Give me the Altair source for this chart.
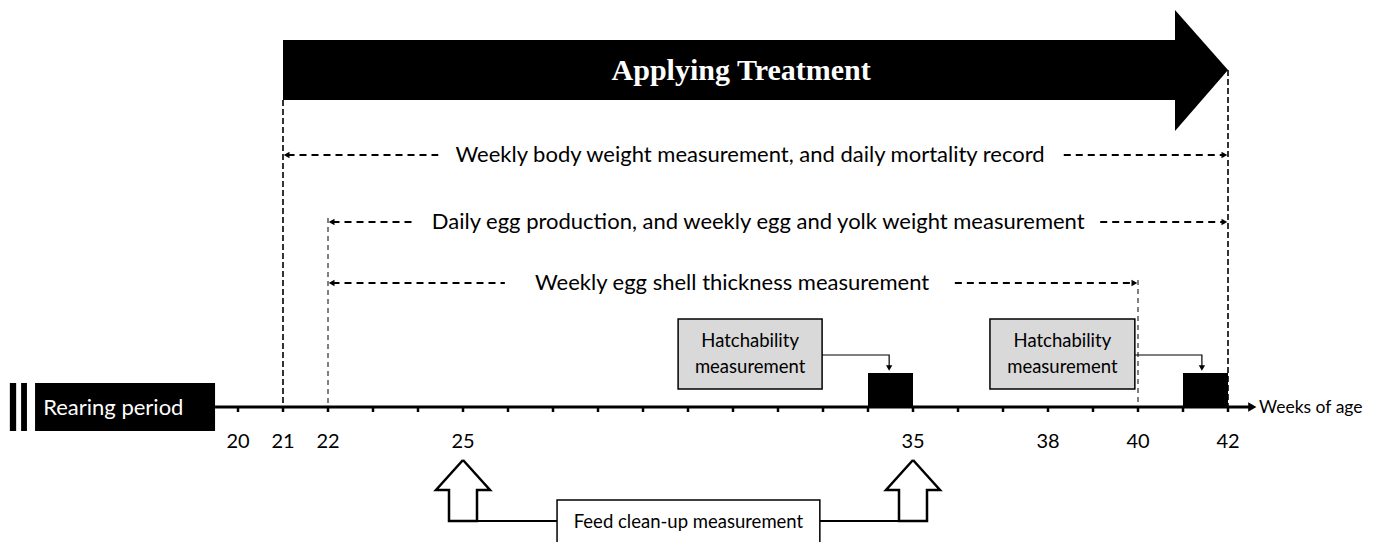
import altair as alt
import pandas as pd

# ---------------- data ----------------
tick_weeks = list(range(20, 43))
label_weeks = [20, 21, 22, 25, 35, 38, 40, 42]

treatment_label = "Applying Treatment"
treatment_start, treatment_end = 21, 42

span_labels = [
    "Weekly body weight measurement, and daily mortality record",
    "Daily egg production, and weekly egg and yolk weight measurement",
    "Weekly egg shell thickness measurement",
]
span_start = [21, 22, 22]
span_end = [42, 42, 40]
span_text_week = [31.38, 31.56, 30.98]
span_gap_left = [24.45, 23.96, 25.93]
span_gap_right = [38.35, 39.16, 35.93]

guide_week = [21, 42, 22, 40]

hatch_labels = ["Hatchability", "measurement"]
hatch_box_start = [29.78, 36.71]
hatch_box_end = [32.98, 39.93]
hatch_target_week = [34.47, 41.42]
hatch_period_start = [34, 41]
hatch_period_end = [35, 42]

feed_label = "Feed clean-up measurement"
feed_weeks = [25, 35]
feed_box = [27.09, 32.93]

rearing_label = "Rearing period"
rearing_start, rearing_end = 15.49, 19.49
break_bars = [(14.93, 15.07), (15.18, 15.31)]
timeline_end = 42.49
axis_title = "Weeks of age"

# ---------------- layout (vertical levels, px from page top) ----------------
W, H = 1358, 540
PXW = 45.0  # px per week
x_dom = [21 - 275 / PXW, 21 - 275 / PXW + W / PXW]
y_dom = [8, 8 + H]
xs = alt.Scale(domain=x_dom, nice=False, zero=False)
ys = alt.Scale(domain=y_dom, nice=False, zero=False, reverse=True)

ARROW_TOP, ARROW_BOT, HEAD_TOP, HEAD_BOT, ARROW_MID = 40, 100, 10, 131, 70
HEAD_BASE = 42 - 53 / PXW
ROW_Y = [155, 222, 283]
GUIDE_TOP = [100, 70, 218, 280]
TL_Y = 407
LABEL_Y = 442
HB_TOP, HB_BOT, CONN_Y = 319, 389, 355
BLK_TOP = 373
FEED_TIP, FEED_BASE, FEED_BOT = 460, 490, 521
HEAD_HW, SHAFT_HW = 27 / PXW, 14 / PXW
FONT = "Lato"


def X(f="x"):
    return alt.X(f, type="quantitative", scale=xs, axis=None)


def Y(f="y"):
    return alt.Y(f, type="quantitative", scale=ys, axis=None)


layers = []

# treatment arrow
layers.append(alt.Chart(pd.DataFrame([{"x": treatment_start, "x2": HEAD_BASE + 0.01,
                                       "y": ARROW_TOP, "y2": ARROW_BOT}]))
              .mark_rect(color="black").encode(x=X(), x2="x2", y=Y(), y2="y2"))
layers.append(alt.Chart(pd.DataFrame({"x": [HEAD_BASE, treatment_end],
                                      "y": [HEAD_TOP, ARROW_MID], "y2": [HEAD_BOT, ARROW_MID]}))
              .mark_area(color="black", opacity=1).encode(x=X(), y=Y(), y2="y2"))
layers.append(alt.Chart(pd.DataFrame([{"x": (treatment_start + HEAD_BASE) / 2 + 0.27,
                                       "y": ARROW_MID + 1, "t": treatment_label}]))
              .mark_text(font="Liberation Serif", fontWeight="bold", fontSize=30, color="white",
                         align="center", baseline="middle")
              .encode(x=X(), y=Y(), text="t:N"))

# vertical guides
gdf = pd.DataFrame({"x": guide_week, "y": GUIDE_TOP, "y2": [TL_Y] * 4})
layers.append(alt.Chart(gdf.iloc[:2]).mark_rule(color="black", strokeWidth=1.6, strokeDash=[6, 3])
              .encode(x=X(), y=Y(), y2="y2"))
layers.append(alt.Chart(gdf.iloc[2:]).mark_rule(color="black", strokeWidth=1, strokeDash=[5, 4])
              .encode(x=X(), y=Y(), y2="y2"))

# span dashed arrows
segs = []
for i in range(3):
    segs.append({"x": span_start[i] + 0.1, "x2": span_gap_left[i], "y": ROW_Y[i]})
    segs.append({"x": span_gap_right[i], "x2": span_end[i] - 0.1, "y": ROW_Y[i]})
layers.append(alt.Chart(pd.DataFrame(segs)).mark_rule(color="black", strokeWidth=2, strokeDash=[7, 5])
              .encode(x=X(), x2="x2", y=Y()))
layers.append(alt.Chart(pd.DataFrame({"x": [s + 0.08 for s in span_start], "y": ROW_Y}))
              .mark_point(shape="triangle-left", filled=True, color="black", size=45, opacity=1)
              .encode(x=X(), y=Y()))
layers.append(alt.Chart(pd.DataFrame({"x": [e - 0.08 for e in span_end], "y": ROW_Y}))
              .mark_point(shape="triangle-right", filled=True, color="black", size=45, opacity=1)
              .encode(x=X(), y=Y()))
layers.append(alt.Chart(pd.DataFrame({"x": span_text_week, "y": ROW_Y, "t": span_labels}))
              .mark_text(font=FONT, fontSize=22, color="black", align="center", baseline="middle")
              .encode(x=X(), y=Y(), text="t:N"))

# timeline
layers.append(alt.Chart(pd.DataFrame([{"x": rearing_end, "x2": timeline_end, "y": TL_Y}]))
              .mark_rule(color="black", strokeWidth=3).encode(x=X(), x2="x2", y=Y()))
layers.append(alt.Chart(pd.DataFrame([{"x": timeline_end + 0.05, "y": TL_Y}]))
              .mark_point(shape="triangle-right", filled=True, color="black", size=90, opacity=1)
              .encode(x=X(), y=Y()))
layers.append(alt.Chart(pd.DataFrame({"x": tick_weeks, "y": [TL_Y] * len(tick_weeks),
                                      "y2": [TL_Y + 5] * len(tick_weeks)}))
              .mark_rule(color="black", strokeWidth=2.5).encode(x=X(), y=Y(), y2="y2"))
layers.append(alt.Chart(pd.DataFrame({"x": label_weeks, "y": [LABEL_Y] * len(label_weeks),
                                      "t": [str(w) for w in label_weeks]}))
              .mark_text(font=FONT, fontSize=20, color="black", align="center", baseline="middle")
              .encode(x=X(), y=Y(), text="t:N"))
layers.append(alt.Chart(pd.DataFrame([{"x": timeline_end + 0.2, "y": TL_Y + 1, "t": axis_title}]))
              .mark_text(font=FONT, fontSize=17.5, color="black", align="left", baseline="middle")
              .encode(x=X(), y=Y(), text="t:N"))

# rearing period
rdf = pd.DataFrame([{"x": rearing_start, "x2": rearing_end}] +
                   [{"x": a, "x2": b} for a, b in break_bars])
rdf["y"], rdf["y2"] = 383, 431
layers.append(alt.Chart(rdf).mark_rect(color="black").encode(x=X(), x2="x2", y=Y(), y2="y2"))
layers.append(alt.Chart(pd.DataFrame([{"x": rearing_start + 0.18, "y": TL_Y + 1, "t": rearing_label}]))
              .mark_text(font=FONT, fontSize=22, color="white", align="left", baseline="middle")
              .encode(x=X(), y=Y(), text="t:N"))

# hatchability periods
layers.append(alt.Chart(pd.DataFrame({"x": hatch_period_start, "x2": hatch_period_end,
                                      "y": [BLK_TOP] * 2, "y2": [TL_Y] * 2}))
              .mark_rect(color="black").encode(x=X(), x2="x2", y=Y(), y2="y2"))
layers.append(alt.Chart(pd.DataFrame({"x": hatch_box_start, "x2": hatch_box_end,
                                      "y": [HB_TOP] * 2, "y2": [HB_BOT] * 2}))
              .mark_rect(fill="#d9d9d9", stroke="black", strokeWidth=1.5)
              .encode(x=X(), x2="x2", y=Y(), y2="y2"))
htxt = []
for s, e in zip(hatch_box_start, hatch_box_end):
    htxt.append({"x": (s + e) / 2, "y": 341, "t": hatch_labels[0]})
    htxt.append({"x": (s + e) / 2, "y": 367, "t": hatch_labels[1]})
layers.append(alt.Chart(pd.DataFrame(htxt))
              .mark_text(font=FONT, fontSize=18.5, color="black", align="center", baseline="middle")
              .encode(x=X(), y=Y(), text="t:N"))
conn = []
for i, (e, t) in enumerate(zip(hatch_box_end, hatch_target_week)):
    conn += [{"g": i, "o": 0, "x": e, "y": CONN_Y}, {"g": i, "o": 1, "x": t, "y": CONN_Y},
             {"g": i, "o": 2, "x": t, "y": BLK_TOP - 6}]
layers.append(alt.Chart(pd.DataFrame(conn)).mark_line(color="black", strokeWidth=1.2)
              .encode(x=X(), y=Y(), detail="g:N", order="o:Q"))
layers.append(alt.Chart(pd.DataFrame({"x": hatch_target_week, "y": [BLK_TOP - 5] * 2}))
              .mark_point(shape="triangle-down", filled=True, color="black", size=40, opacity=1)
              .encode(x=X(), y=Y()))

# feed clean-up hollow arrows
poly = []
for i, c in enumerate(feed_weeks):
    pts = [(c, FEED_TIP), (c + HEAD_HW, FEED_BASE), (c + SHAFT_HW, FEED_BASE), (c + SHAFT_HW, FEED_BOT),
           (c - SHAFT_HW, FEED_BOT), (c - SHAFT_HW, FEED_BASE), (c - HEAD_HW, FEED_BASE), (c, FEED_TIP)]
    for k, (px, py) in enumerate(pts):
        poly.append({"g": i, "o": k, "x": px, "y": py})
layers.append(alt.Chart(pd.DataFrame(poly)).mark_line(color="black", strokeWidth=2.5, strokeJoin="miter")
              .encode(x=X(), y=Y(), detail="g:N", order="o:Q"))
layers.append(alt.Chart(pd.DataFrame([
    {"x": feed_weeks[0] + SHAFT_HW, "x2": feed_box[0], "y": FEED_BOT},
    {"x": feed_box[1], "x2": feed_weeks[1] - SHAFT_HW, "y": FEED_BOT}]))
    .mark_rule(color="black", strokeWidth=2).encode(x=X(), x2="x2", y=Y()))
layers.append(alt.Chart(pd.DataFrame([{"x": feed_box[0], "x2": feed_box[1], "y": 500, "y2": 560}]))
              .mark_rect(fill="white", stroke="black", strokeWidth=1.5)
              .encode(x=X(), x2="x2", y=Y(), y2="y2"))
layers.append(alt.Chart(pd.DataFrame([{"x": sum(feed_box) / 2, "y": 522, "t": feed_label}]))
              .mark_text(font=FONT, fontSize=18.5, color="black", align="center", baseline="middle")
              .encode(x=X(), y=Y(), text="t:N"))

chart = (alt.layer(*layers)
         .properties(width=W, height=H, autosize=alt.AutoSizeParams(type="none"), padding=0)
         .configure_view(stroke=None))

chart.save("out.html", embed_options={"renderer": "svg", "actions": False})
